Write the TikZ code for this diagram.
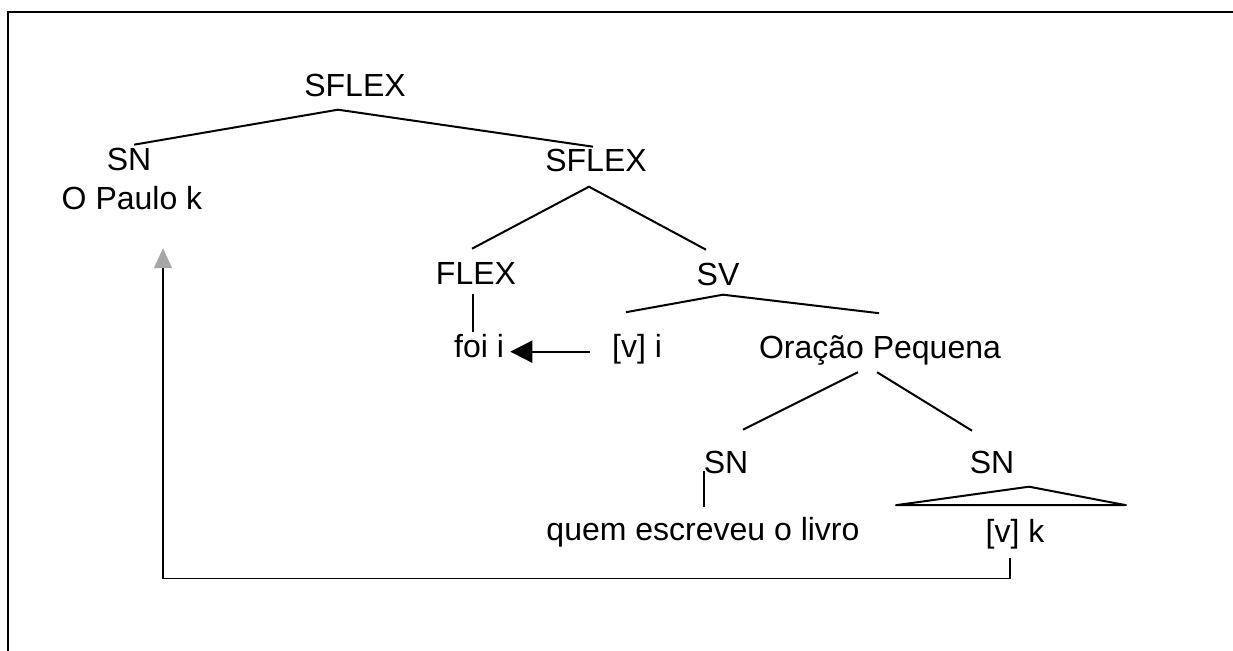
\documentclass[tikz,border=0pt]{standalone}
\usepackage{fontspec}
\setmainfont{Liberation Sans}
\usetikzlibrary{arrows.meta}
\tikzset{
    cat/.style={
        inner sep=0pt,
        anchor=base,
        text height=11.7pt,
        text depth=3.4pt,
        font=\fontsize{16}{19}\selectfont
    },
    branch/.style={line width=1pt},
    trace/.style={line width=0.6pt}
}

\begin{document}
\begin{tikzpicture}[x=0.5pt,y=-0.5pt]
            \useasboundingbox (0,0) rectangle (1233,651);
            \draw [line width=0.9pt] (8,651) -- (8,12) -- (1233,12);
            \node [cat] (top) at (355,96.5) {SFLEX};
            \node [cat] (snA) at (129,170.5) {SN};
            \node [cat] (paulo) at (132,210) {O Paulo k};
            \node [cat] (sflexB) at (596,171.5) {SFLEX};
            \node [cat] (flex) at (476,284.5) {FLEX};
            \node [cat] (sv) at (718,285.5) {SV};
            \node [cat] (foi) at (479,358) {foi i};
            \node [cat] (vi) at (637,358) {[v] i};
            \node [cat] (op) at (880,359) {Oração Pequena};
            \node [cat] (snB) at (726,473.5) {SN};
            \node [cat] (snC) at (992,473.5) {SN};
            \node [cat] (quem) at (703,541) {quem escreveu o livro};
            \node [cat] (vk) at (1015,543) {[v] k};
            \draw [branch] ([shift={(5,-2)}]snA.north)
                -- ([shift={(-17,6)}]top.south)
                -- ([shift={(-3,-1)}]sflexB.north);
            \draw [branch] ([shift={(-4,-12)}]flex.north)
                -- ([shift={(-7,8)}]sflexB.south)
                -- ([shift={(-12,-12)}]sv.north);
            \draw [branch] ([shift={(-3,2)}]flex.south) -- ([shift={(-6,-2)}]foi.north);
            \draw [branch] ([shift={(-11,-22)}]vi.north)
                -- ([shift={(5,2)}]sv.south)
                -- ([shift={(-1,-22)}]op.north);
            \draw [branch] ([shift={(-22,6)}]op.south) -- ([shift={(17,-20)}]snB.north);
            \draw [branch] ([shift={(-3,6)}]op.south) -- ([shift={(-20,-19)}]snC.north);
            \draw [branch] ([shift={(-22,-10)}]snB.south) -- ([shift={(1,-10)}]quem.north);
            \draw [branch,line join=round] ([shift={(37,6)}]snC.south)
                -- ([shift={(111,-14)}]vk.north)
                -- ([shift={(-119,-14)}]vk.north)
                -- cycle;
            \draw [branch,-{Triangle[length=11pt,width=11pt]}]
                ([shift={(-22,2)}]vi.west) -- ([shift={(6,2)}]foi.east);
            \draw [trace,-{Triangle[length=10pt,width=9pt,color=gray!70]}]
                ([shift={(-5,8)}]vk.south) -- ++(0,20)
                -| ([shift={(31,31)}]paulo.south);
\end{tikzpicture}
\end{document}
